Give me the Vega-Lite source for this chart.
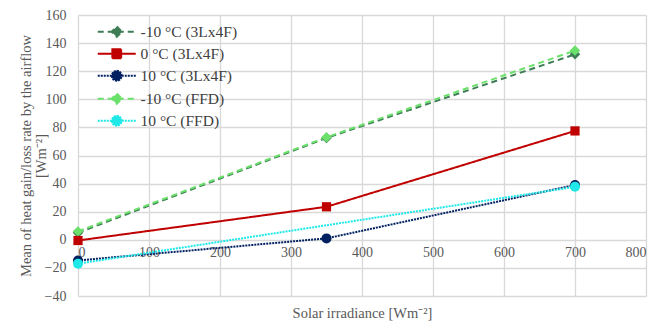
{
  "$schema": "https://vega.github.io/schema/vega-lite/v6.json",
  "width": 568,
  "height": 281,
  "autosize": "none",
  "padding": {"left": 78, "top": 15, "right": 11, "bottom": 26},
  "config": {
    "view": {"stroke": null},
    "font": "Liberation Serif",
    "axis": {"gridColor": "#d9d9d9", "gridWidth": 1.3, "domain": false, "ticks": false, "labelColor": "#595959", "labelFont": "Liberation Serif", "labelFontSize": 14, "titleFont": "Liberation Serif", "titleFontSize": 14.5, "titleFontWeight": "normal", "titleColor": "#595959"}
  },
  "data": {
    "values": [
      {"s": "-10 °C (3Lx4F)", "x": 0, "y": 5},
      {"s": "-10 °C (3Lx4F)", "x": 350, "y": 72.5},
      {"s": "-10 °C (3Lx4F)", "x": 700, "y": 132},
      {"s": "0 °C (3Lx4F)", "x": 0, "y": -0.5},
      {"s": "0 °C (3Lx4F)", "x": 350, "y": 23.5},
      {"s": "0 °C (3Lx4F)", "x": 700, "y": 77.5},
      {"s": "10 °C (3Lx4F)", "x": 0, "y": -14.7},
      {"s": "10 °C (3Lx4F)", "x": 350, "y": 1},
      {"s": "10 °C (3Lx4F)", "x": 700, "y": 39},
      {"s": "-10 °C (FFD)", "x": 0, "y": 6},
      {"s": "-10 °C (FFD)", "x": 350, "y": 73},
      {"s": "-10 °C (FFD)", "x": 700, "y": 134.7},
      {"s": "10 °C (FFD)", "x": 0, "y": -17},
      {"s": "10 °C (FFD)", "x": 700, "y": 37.7}
    ]
  },
  "encoding": {
    "x": {"field": "x", "type": "quantitative", "scale": {"domain": [0, 800], "nice": false},
      "axis": {"values": [0, 100, 200, 300, 400, 500, 600, 700, 800], "offset": -56, "labelPadding": 5, "title": "Solar irradiance [Wm⁻²]", "titlePadding": 47}},
    "y": {"field": "y", "type": "quantitative", "scale": {"domain": [-40, 160], "nice": false},
      "axis": {"values": [-40, -20, 0, 20, 40, 60, 80, 100, 120, 140, 160], "labelPadding": 12, "title": ["Mean of heat gain/loss rate by the airflow", "[Wm⁻²]"], "titlePadding": -4, "titleLineHeight": 15}},
    "color": {"field": "s", "type": "nominal",
      "scale": {"domain": ["-10 °C (3Lx4F)", "0 °C (3Lx4F)", "10 °C (3Lx4F)", "-10 °C (FFD)", "10 °C (FFD)"],
        "range": ["#3e7d55", "#c00000", "#002060", "#6be06b", "#1ee8e8"]},
      "legend": {"title": null, "orient": "none", "legendX": 31, "legendY": 9, "labelFont": "Liberation Serif", "labelFontSize": 15.5, "labelColor": "#404040", "labelOffset": 16, "rowPadding": 4, "symbolSize": 100, "symbolStrokeWidth": 1.8,
        "encode": {"symbols": {"update": {
          "shape": {"signal": "datum.value == '0 °C (3Lx4F)' ? 'M-3.8,0L3.8,0M-0.9,-0.9L0.9,-0.9L0.9,0.9L-0.9,0.9Z' : (indexof(datum.value, '-10') == 0 ? 'M-3.8,0L3.8,0M0,-1.05L1.05,0L0,1.05L-1.05,0Z' : 'M-3.8,0L3.8,0M-1,0A1,1,0,1,0,1,0A1,1,0,1,0,-1,0Z')"},
          "fill": {"signal": "scale('color', datum.value)"},
          "stroke": {"signal": "scale('color', datum.value)"},
          "strokeOpacity": {"value": 1},
          "strokeWidth": {"value": 1.8},
          "size": {"value": 100}
        }}}}
    }
  },
  "layer": [
    {
      "mark": {"type": "line", "strokeWidth": 2},
      "encoding": {
        "strokeDash": {"field": "s", "type": "nominal",
          "scale": {"domain": ["-10 °C (3Lx4F)", "0 °C (3Lx4F)", "10 °C (3Lx4F)", "-10 °C (FFD)", "10 °C (FFD)"],
            "range": [[6, 4], [1, 0], [2, 1], [6, 4], [2, 1]]}}
      }
    },
    {
      "transform": [{"filter": "indexof(datum.s, '-10') == 0"}],
      "mark": {"type": "point", "filled": true, "opacity": 1, "shape": "diamond", "size": 110}
    },
    {
      "transform": [{"filter": "datum.s == '0 °C (3Lx4F)'"}],
      "mark": {"type": "point", "filled": true, "opacity": 1, "shape": "square", "size": 85}
    },
    {
      "transform": [{"filter": "indexof(datum.s, '10 ') == 0"}],
      "mark": {"type": "point", "filled": true, "opacity": 1, "shape": "circle", "size": 100}
    }
  ]
}
